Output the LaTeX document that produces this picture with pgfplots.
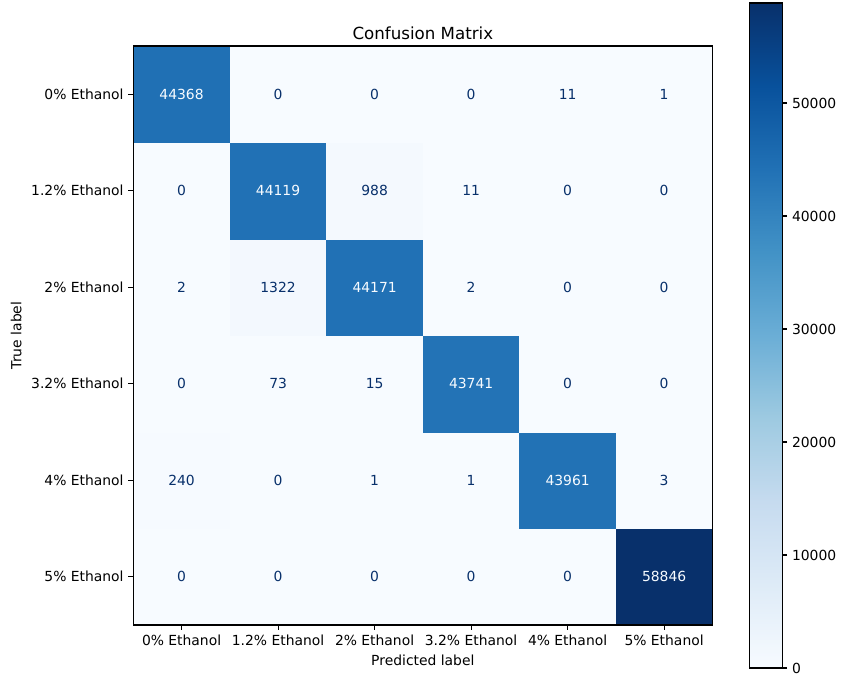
\documentclass[border=0pt]{standalone}
\usepackage{fontspec}
\setmainfont{DejaVu Sans}
\usepackage{pgfplots}
\pgfplotsset{compat=1.18}
\definecolor{darktxt}{RGB}{8,48,107}
\definecolor{lighttxt}{RGB}{247,251,255}
\pgfplotsset{colormap={blues}{rgb255=(247,251,255) rgb255=(222,235,247) rgb255=(198,219,239) rgb255=(158,202,225) rgb255=(107,174,214) rgb255=(66,146,198) rgb255=(33,113,181) rgb255=(8,81,156) rgb255=(8,48,107)}}
\begin{document}
\begin{tikzpicture}
\path[use as bounding box] (0,0) rectangle (605.52pt,487.44pt);
\begin{axis}[
  at={(96pt,37.44pt)}, anchor=south west,
  scale only axis, width=416.9pt, height=416.9pt,
  xmin=-0.5, xmax=5.5, ymin=-0.5, ymax=5.5,
  enlargelimits=false, axis on top,
  axis line style={line width=0.8pt, black},
  colormap name=blues,
  point meta min=0, point meta max=58846,
  xtick={0,...,5}, ytick={0,...,5},
  xticklabels={0\% Ethanol, 1.2\% Ethanol, 2\% Ethanol, 3.2\% Ethanol, 4\% Ethanol, 5\% Ethanol},
  yticklabels={5\% Ethanol, 4\% Ethanol, 3.2\% Ethanol, 2\% Ethanol, 1.2\% Ethanol, 0\% Ethanol},
  tick pos=left, tick align=outside, major tick length=3.5pt,
  tick style={line width=0.8pt, black},
  ticklabel style={font=\fontsize{10}{12}\selectfont},
  xlabel={Predicted label}, ylabel={True label},
  label style={font=\fontsize{10}{12}\selectfont},
  title={Confusion Matrix},
  title style={font=\fontsize{12}{14}\selectfont, at={(0.5,1)}, anchor=base, yshift=-1.6pt},
]
\addplot[matrix plot*, mesh/cols=6, point meta=explicit] table[meta=v] {
x y v
0 0 0
1 0 0
2 0 0
3 0 0
4 0 0
5 0 58846
0 1 240
1 1 0
2 1 1
3 1 1
4 1 43961
5 1 3
0 2 0
1 2 73
2 2 15
3 2 43741
4 2 0
5 2 0
0 3 2
1 3 1322
2 3 44171
3 3 2
4 3 0
5 3 0
0 4 0
1 4 44119
2 4 988
3 4 11
4 4 0
5 4 0
0 5 44368
1 5 0
2 5 0
3 5 0
4 5 11
5 5 1
};
\addplot[only marks, mark=none, nodes near coords, point meta=explicit symbolic,
  every node near coord/.style={anchor=center, font=\fontsize{10}{12}\selectfont, text=darktxt}]
  table[meta=v] {
x y v
0 0 0
1 0 0
2 0 0
3 0 0
4 0 0
0 1 240
1 1 0
2 1 1
3 1 1
5 1 3
0 2 0
1 2 73
2 2 15
4 2 0
5 2 0
0 3 2
1 3 1322
3 3 2
4 3 0
5 3 0
0 4 0
2 4 988
3 4 11
4 4 0
5 4 0
1 5 0
2 5 0
3 5 0
4 5 11
5 5 1
};
\addplot[only marks, mark=none, nodes near coords, point meta=explicit symbolic,
  every node near coord/.style={anchor=center, font=\fontsize{10}{12}\selectfont, text=lighttxt}]
  table[meta=v] {
x y v
5 0 58846
4 1 43961
3 2 43741
2 3 44171
1 4 44119
0 5 44368
};
\end{axis}
\begin{axis}[
  at={(539.5pt,6.48pt)}, anchor=south west,
  scale only axis, width=23.76pt, height=478.8pt,
  xmin=0, xmax=1, ymin=0, ymax=58846,
  enlargelimits=false, axis on top,
  axis line style={line width=0.8pt, black},
  colormap name=blues,
  point meta min=0, point meta max=58846,
  xtick=\empty,
  ytick={0,10000,20000,30000,40000,50000},
  ytick pos=right, yticklabel pos=right,
  tick align=outside, major tick length=3.5pt,
  tick style={line width=0.8pt, black},
  scaled y ticks=false,
  /pgf/number format/1000 sep={},
  /pgf/number format/assume math mode=true,
  yticklabel style={font=\fontsize{10}{12}\selectfont},
]
\addplot[surf, shader=interp, mesh/cols=2, point meta=explicit] table[meta=v] {
x y v
0 0 0
1 0 0
0 7355.75 7355.75
1 7355.75 7355.75
0 14711.5 14711.5
1 14711.5 14711.5
0 22067.25 22067.25
1 22067.25 22067.25
0 29423 29423
1 29423 29423
0 36778.75 36778.75
1 36778.75 36778.75
0 44134.5 44134.5
1 44134.5 44134.5
0 51490.25 51490.25
1 51490.25 51490.25
0 58846 58846
1 58846 58846
};
\end{axis}
\end{tikzpicture}
\end{document}
